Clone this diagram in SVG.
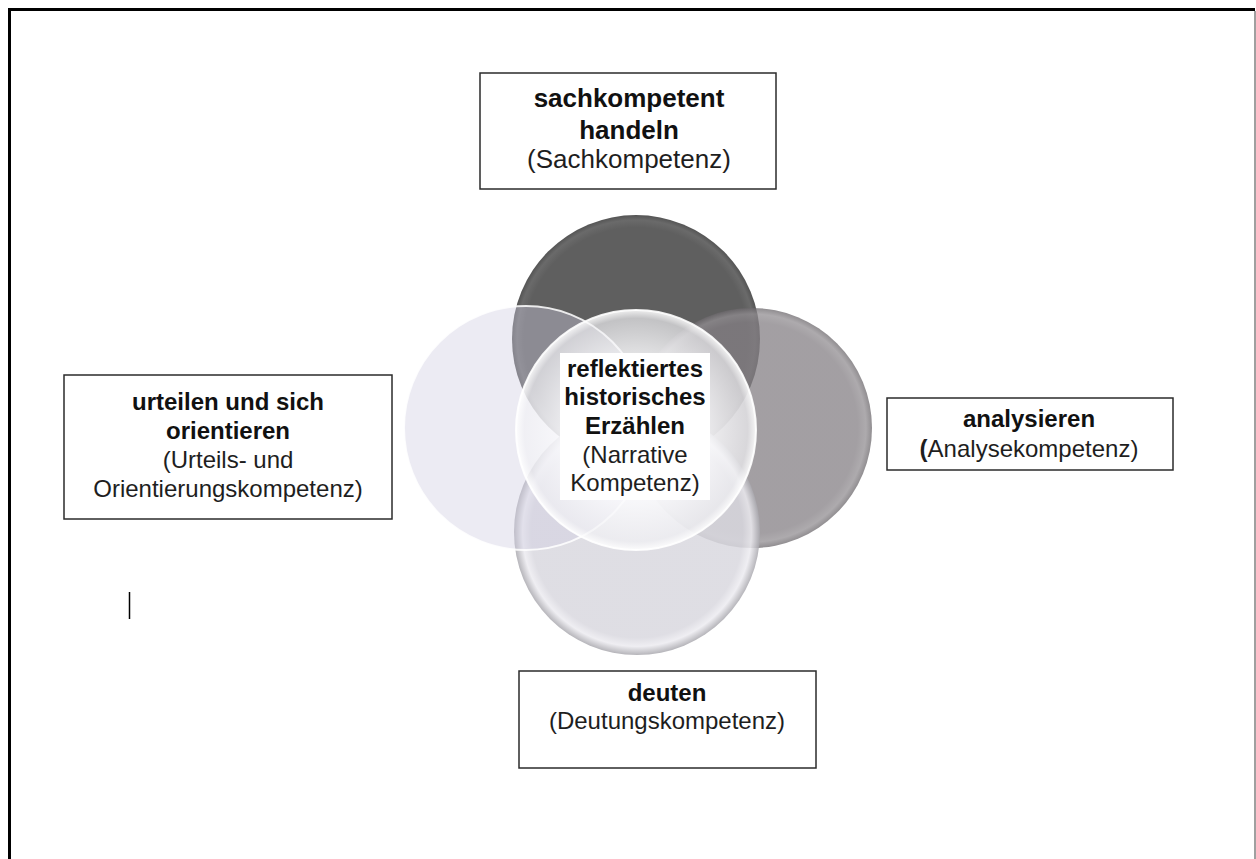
<svg xmlns="http://www.w3.org/2000/svg" width="1256" height="859" viewBox="0 0 1256 859">
<style>
.box{fill:#fff;stroke:#2b2b2b;stroke-width:1.5}
.t{font-family:"Liberation Sans",Arial,sans-serif;font-size:24px;fill:#1e1e1e;text-anchor:middle}
.b{font-weight:bold;fill:#111}
.big{font-size:26px}
</style>
<defs>
<radialGradient id="gTop" cx="0.5" cy="0.5" r="0.5">
<stop offset="0" stop-color="#5f5f5f"/>
<stop offset="0.9" stop-color="#5f5f5f"/>
<stop offset="0.96" stop-color="#6a6a6a"/>
<stop offset="1" stop-color="#545454"/>
</radialGradient>
<radialGradient id="gRight" cx="0.5" cy="0.5" r="0.5">
<stop offset="0" stop-color="#847f84"/>
<stop offset="0.88" stop-color="#847f84"/>
<stop offset="0.95" stop-color="#928e92"/>
<stop offset="1" stop-color="#6c686c"/>
</radialGradient>
<radialGradient id="gBottom" cx="0.5" cy="0.5" r="0.5">
<stop offset="0" stop-color="#d9d8df"/>
<stop offset="0.86" stop-color="#d9d8df"/>
<stop offset="0.93" stop-color="#ecebf0"/>
<stop offset="1" stop-color="#a9a8ae"/>
</radialGradient>
<radialGradient id="gCenter" cx="0.5" cy="0.5" r="0.5">
<stop offset="0" stop-color="#ffffff" stop-opacity="0.96"/>
<stop offset="0.6" stop-color="#fbfbfd" stop-opacity="0.86"/>
<stop offset="0.93" stop-color="#f2f2f5" stop-opacity="0.68"/>
<stop offset="1" stop-color="#ffffff" stop-opacity="0.9"/>
</radialGradient>
</defs>
<rect width="1256" height="859" fill="#fff"/>
<path d="M9.5,859 V9.5 H1255" fill="none" stroke="#000" stroke-width="3"/>
<line x1="1255" y1="11" x2="1255" y2="859" stroke="#808080" stroke-width="1.5"/>

<g id="circles">
<g id="circle-top"><circle cx="636" cy="339" r="124" fill="url(#gTop)"/></g>
<g id="circle-right"><circle cx="752" cy="428" r="120" fill="url(#gRight)" fill-opacity="0.75"/></g>
<g id="circle-bottom"><circle cx="637" cy="532" r="123" fill="url(#gBottom)" fill-opacity="0.85"/></g>
<g id="circle-left"><circle cx="526" cy="428" r="122" fill="#cfcde1" fill-opacity="0.4" stroke="#ffffff" stroke-opacity="0.85" stroke-width="2"/></g>
<g id="circle-center"><circle cx="636" cy="430" r="120" fill="url(#gCenter)" stroke="#ffffff" stroke-opacity="0.9" stroke-width="2"/></g>
</g>

<g id="connectors"></g>

<g id="node-center">
<rect x="560" y="353" width="150" height="147" fill="#fff"/>
<text class="t b" x="635" y="377">reflektiertes</text>
<text class="t b" x="635" y="405">historisches</text>
<text class="t b" x="635" y="434">Erzählen</text>
<text class="t" x="635" y="463">(Narrative</text>
<text class="t" x="635" y="491">Kompetenz)</text>
</g>

<g id="node-top">
<rect class="box" x="480" y="73" width="296" height="116"/>
<text class="t b big" x="629" y="107">sachkompetent</text>
<text class="t b big" x="629" y="139">handeln</text>
<text class="t big" x="629" y="168">(Sachkompetenz)</text>
</g>

<g id="node-left">
<rect class="box" x="64" y="375" width="328" height="144"/>
<text class="t b" x="228" y="410">urteilen und sich</text>
<text class="t b" x="228" y="439">orientieren</text>
<text class="t" x="228" y="468">(Urteils- und</text>
<text class="t" x="228" y="497">Orientierungskompetenz)</text>
</g>

<g id="node-right">
<rect class="box" x="887" y="398" width="286" height="72"/>
<text class="t b" x="1029" y="427">analysieren</text>
<text class="t" x="1029" y="457"><tspan font-weight="bold">(</tspan>Analysekompetenz)</text>
</g>

<g id="node-bottom">
<rect class="box" x="519" y="671" width="297" height="97"/>
<text class="t b" x="667" y="701">deuten</text>
<text class="t" x="667" y="729">(Deutungskompetenz)</text>
</g>

<line x1="129.5" y1="592" x2="129.5" y2="619" stroke="#000" stroke-width="1.5"/>
</svg>
